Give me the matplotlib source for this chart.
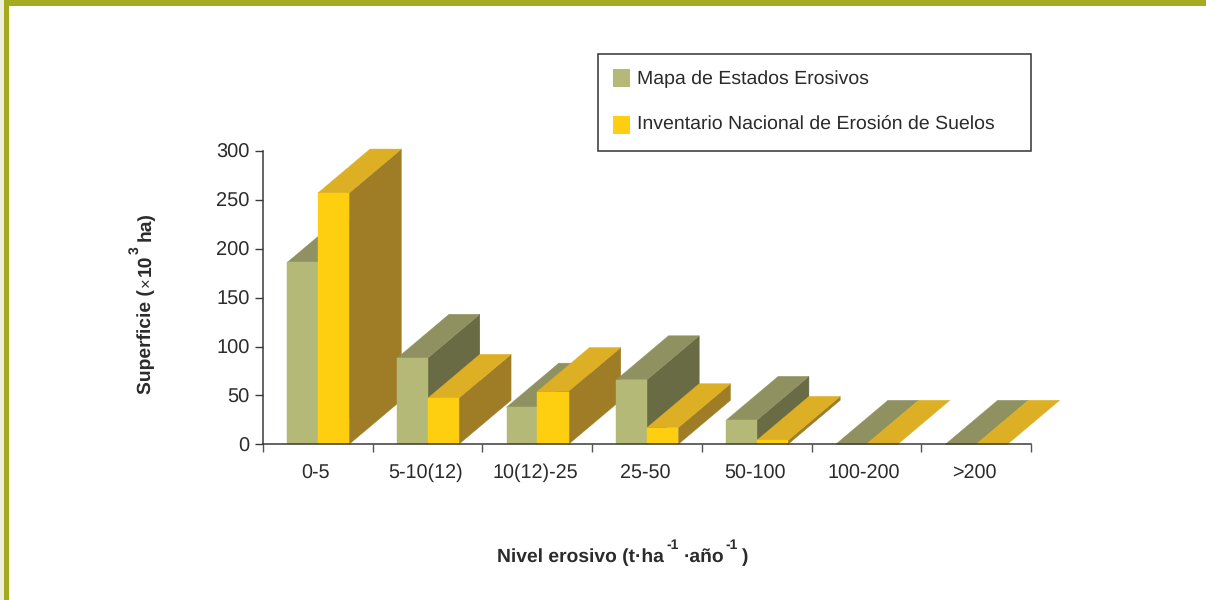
import matplotlib
matplotlib.use('Agg')
import matplotlib.pyplot as plt
from matplotlib.patches import Polygon, Rectangle
from matplotlib.transforms import Affine2D

plt.rcParams['font.family'] = ['Liberation Sans', 'DejaVu Sans']
plt.rcParams['text.hinting'] = 'none'

categorias = ['0-5', '5-10(12)', '10(12)-25', '25-50', '50-100', '100-200', '>200']
mapa_estados = [186, 88, 38, 66, 24.5, 0, 0]
inventario = [257, 47, 54, 17, 4, 0, 0]
ticks_y = [0, 50, 100, 150, 200, 250, 300]
leyenda = ['Mapa de Estados Erosivos', 'Inventario Nacional de Erosión de Suelos']

ANCHO, ALTO = 1206, 600
TEXTO = '#2b2b2b'

# colores: frente, techo y lateral de cada serie
VERDE = ('#B5B978', '#8F9260', '#696B45')
AMARILLO = ('#FDCF10', '#DCAF24', '#9F7D27')

fig = plt.figure(figsize=(ANCHO / 100, ALTO / 100), dpi=100)
pix = Affine2D().scale(1, -1).translate(0, ALTO)  # coordenadas en pixeles, origen arriba

# marco de la pagina
fig.patches.append(Rectangle((0, 0), 3.5, ALTO, transform=pix, color='#EFEFDC', lw=0))
fig.patches.append(Rectangle((3.5, 0), 5.5, ALTO, transform=pix, color='#A5AB1E', lw=0))
fig.patches.append(Rectangle((3.5, 0), ANCHO, 6, transform=pix, color='#A5AB1E', lw=0))

ax = fig.add_axes([263 / ANCHO, (ALTO - 444.3) / ALTO, 768 / ANCHO, 293.3 / ALTO])
ax.patch.set_alpha(0)
ax.set_xlim(0, 7)
ax.set_ylim(0, 300)

ancho_verde = 0.28
ancho_amarillo = 0.285
dx, dy = 0.476, 45


def barra3d(x, ancho, valor, colores):
    frente, techo, lateral = colores
    x2 = x + ancho
    if valor > 0:
        ax.add_patch(Polygon([(x2, 0), (x2 + dx, dy), (x2 + dx, valor + dy), (x2, valor)],
                             fc=lateral, ec=lateral, lw=0.3, clip_on=False))
    ax.add_patch(Polygon([(x, valor), (x + dx, valor + dy), (x2 + dx, valor + dy), (x2, valor)],
                         fc=techo, ec=techo, lw=0.3, clip_on=False))
    if valor > 0:
        ax.add_patch(Rectangle((x, 0), ancho, valor, fc=frente, ec=frente, lw=0.3, clip_on=False))


for i in range(len(categorias)):
    centro = i + 0.5
    barra3d(centro - ancho_verde, ancho_verde, mapa_estados[i], VERDE)
    barra3d(centro, ancho_amarillo, inventario[i], AMARILLO)

# ejes
for lado in ['top', 'right']:
    ax.spines[lado].set_visible(False)
for lado in ['left', 'bottom']:
    ax.spines[lado].set_color('#3a3a3a')
    ax.spines[lado].set_linewidth(1.1)
    ax.spines[lado].set_zorder(5)

ax.set_yticks(ticks_y)
ax.set_xticks(range(8))
ax.set_xticklabels([])
ax.set_xticks([i + 0.48 for i in range(7)], minor=True)
ax.set_xticklabels(categorias, minor=True, va='baseline')
ax.tick_params(axis='x', which='minor', length=0, pad=24.5, labelsize=14.2, labelcolor=TEXTO)
ax.tick_params(axis='x', which='major', length=6, width=1, color='#555555')
ax.tick_params(axis='y', length=5.5, width=1, color='#3a3a3a', pad=4.2, labelsize=14.4, labelcolor=TEXTO)

# leyenda
fig.patches.append(Rectangle((598, 54), 433, 97, transform=pix, fc='white', ec='#333333', lw=1.1))
fig.patches.append(Rectangle((613, 69), 17, 18, transform=pix, color=VERDE[0], lw=0))
fig.patches.append(Rectangle((613, 116), 17, 18, transform=pix, color=AMARILLO[0], lw=0))
fig.text(637, 84, leyenda[0], transform=pix, fontsize=14.03, color=TEXTO, va='baseline')
fig.text(637, 130, leyenda[1], transform=pix, fontsize=14.03, color=TEXTO, va='baseline')


def rotulo(x, y, s, size=13.85, weight='bold', rot=0):
    fig.text(x, y, s, transform=pix, fontsize=size, fontweight=weight, color=TEXTO,
             rotation=rot, rotation_mode='anchor', va='baseline', ha='left')


# titulo del eje x
rotulo(497, 562, 'Nivel erosivo (t·ha')
rotulo(666, 549, '-1', size=10)
rotulo(684, 562, '·año')
rotulo(725, 549, '-1', size=10)
rotulo(742, 562, ')')

# titulo del eje y
rotulo(151, 394, 'Superficie (', rot=90)
rotulo(151, 287, '×', size=12, weight='normal', rot=90)
rotulo(151, 276, '10', rot=90)
rotulo(139, 254, '3', size=10, rot=90)
rotulo(151, 241, 'ha)', rot=90)

fig.savefig('out.png', dpi=100)
